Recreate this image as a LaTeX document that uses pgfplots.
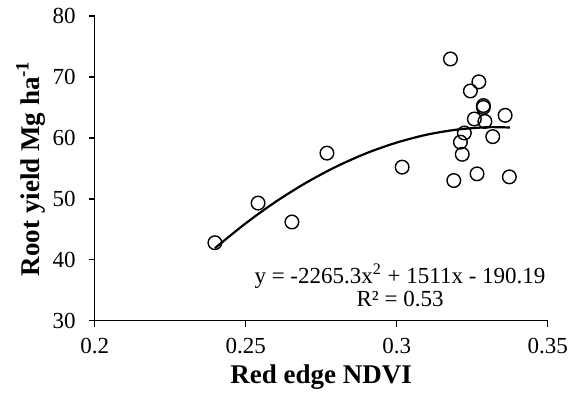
\documentclass[border=0pt]{standalone}
\usepackage{pgfplots}
\pgfplotsset{compat=1.18}
\usepackage{fontspec}
\setmainfont{Liberation Serif}
\begin{document}
\begin{tikzpicture}
\begin{axis}[
  name=ax,
  scale only axis,
  width=226.5pt, height=152.35pt,
  xmin=0.2, xmax=0.35, ymin=30, ymax=80,
  xtick={0.2,0.25,0.3,0.35},
  xticklabels={0.2,0.25,0.3,0.35},
  ytick={30,40,50,60,70,80},
  axis lines=left,
  axis line style={-, line width=0.7pt},
  tick style={line width=0.7pt, black},
  tick align=outside,
  major tick length=3pt,
  /pgf/number format/assume math mode=true,
  tick label style={font=\fontsize{11.5}{13}\selectfont},
  xticklabel style={yshift=-2pt},
  yticklabel style={xshift=-3pt},
  xlabel={\bfseries Red edge NDVI},
  ylabel={\bfseries Root yield Mg ha\textsuperscript{-1}},
  label style={font=\fontsize{13.5}{15}\selectfont},
  xlabel style={at={(axis description cs:0.5,0)}, anchor=center, yshift=-28pt},
  ylabel style={at={(axis description cs:0,0.5)}, anchor=center, yshift=32pt},
  clip=false,
]
\addplot[only marks, mark=o, mark size=3.4pt, mark options={line width=0.7pt, black}] coordinates {
(0.2398,42.8) (0.2541,49.3) (0.2653,46.2) (0.2769,57.5) (0.3018,55.2)
(0.3178,72.95) (0.3272,69.2) (0.3244,67.7) (0.3287,65.0) (0.3287,65.3)
(0.3359,63.7) (0.3257,63.1) (0.3292,62.7) (0.3224,60.8) (0.3318,60.2)
(0.3211,59.3) (0.3217,57.3) (0.3189,53.0) (0.3266,54.1) (0.3373,53.6)
};
\addplot[smooth, line width=1.1pt, black] coordinates {
(0.2398,41.90) (0.25,45.98) (0.26,49.54) (0.27,52.64) (0.28,55.29)
(0.29,57.49) (0.30,59.23) (0.31,60.53) (0.32,61.36) (0.33,61.75)
(0.3375,61.70)
};
\node[align=center, font=\fontsize{11.5}{11.5}\selectfont] at (axis cs:0.3011,35.8)
  {y = -2265.3x\textsuperscript{2} + 1511x - 190.19\\R² = 0.53};
\end{axis}
\pgfresetboundingbox
\path ([shift={(-47.35pt,-36.65pt)}]ax.south west) rectangle ([shift={(16.65pt,8pt)}]ax.north east);
\end{tikzpicture}
\end{document}
